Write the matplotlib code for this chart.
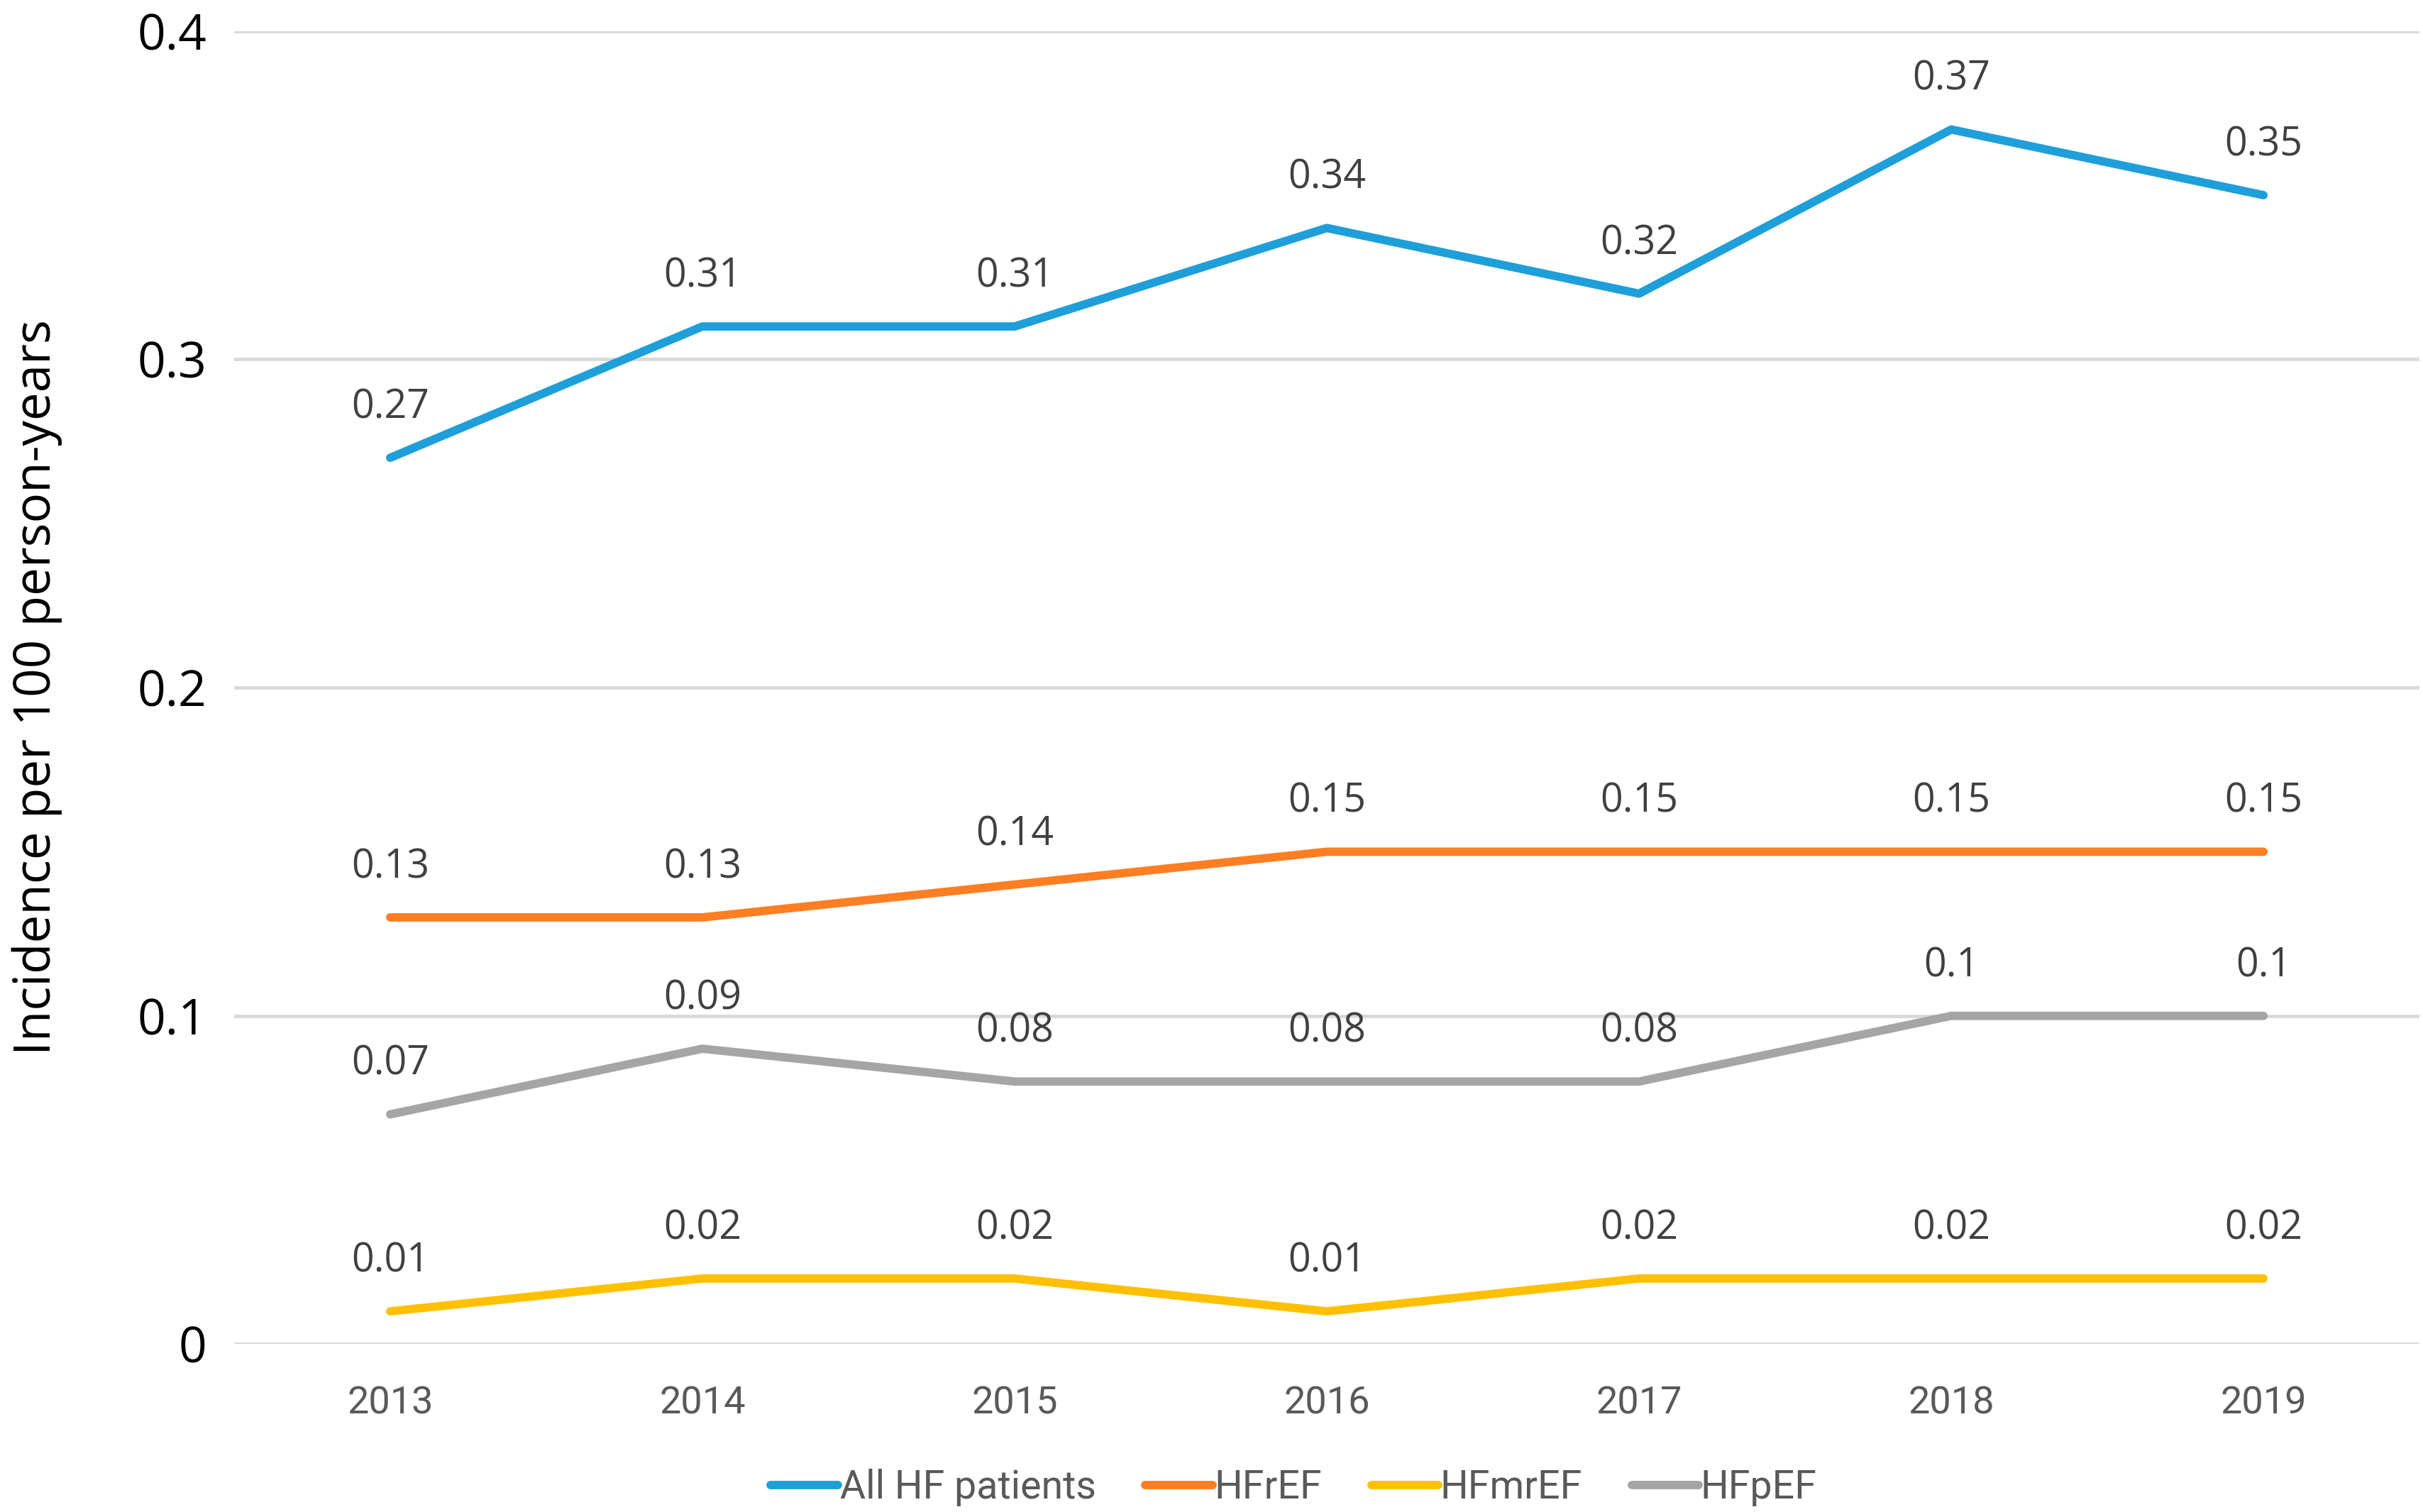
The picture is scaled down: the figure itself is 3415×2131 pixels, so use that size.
import matplotlib
matplotlib.use("Agg")
import matplotlib.pyplot as plt

years = ["2013", "2014", "2015", "2016", "2017", "2018", "2019"]
all_hf = [0.27, 0.31, 0.31, 0.34, 0.32, 0.37, 0.35]
hfref = [0.13, 0.13, 0.14, 0.15, 0.15, 0.15, 0.15]
hfmref = [0.01, 0.02, 0.02, 0.01, 0.02, 0.02, 0.02]
hfpef = [0.07, 0.09, 0.08, 0.08, 0.08, 0.10, 0.10]
y_ticks = [0, 0.1, 0.2, 0.3, 0.4]
y_tick_labels = ["0", "0.1", "0.2", "0.3", "0.4"]

series = [
    ("All HF patients", all_hf, "#1E9FD9"),
    ("HFrEF", hfref, "#FD7E23"),
    ("HFmrEF", hfmref, "#FFC000"),
    ("HFpEF", hfpef, "#A5A5A5"),
]

main_font = ["Open Sans", "DejaVu Sans"]
narrow_font = ["Roboto", "DejaVu Sans"]

fig = plt.figure(figsize=(34.15, 21.31), dpi=100)
ax = fig.add_axes([0.0966, 0.111, 0.902, 0.8685])

x = list(range(len(years)))
handles = []
for name, vals, col in series:
    h, = ax.plot(x, vals, color=col, lw=8.5, solid_capstyle="round",
                 solid_joinstyle="round", label=name, zorder=3)
    handles.append(h)
    for xi, v in zip(x, vals):
        ax.annotate(f"{v:g}", (xi, v), xytext=(0, 30), textcoords="offset points",
                    ha="center", va="bottom", fontsize=40, color="#404040",
                    family=main_font)

ax.set_xlim(-0.5, len(years) - 0.5)
ax.set_ylim(0, 0.4)
ax.set_yticks(y_ticks)
ax.set_yticklabels(y_tick_labels, family=main_font, fontsize=50, color="black")
ax.set_xticks(x)
ax.set_xticklabels(years, family=narrow_font, fontsize=39, color="#595959")
ax.tick_params(axis="y", length=0, pad=28)
ax.tick_params(axis="x", length=0, pad=42)
for s in ax.spines.values():
    s.set_visible(False)
ax.grid(axis="y", color="#D9D9D9", lw=3.5, zorder=0)
ax.set_axisbelow(True)

ax.set_ylabel("Incidence per 100 person-years", family=main_font, fontsize=51,
              color="black", labelpad=76)

leg = fig.legend(handles=handles, loc="center", bbox_to_anchor=(0.534, 0.016),
                 ncol=4, frameon=False, prop={"family": narrow_font, "size": 40},
                 handlelength=1.7, handletextpad=0.05, columnspacing=1.25)
for t in leg.get_texts():
    t.set_color("#595959")

fig.savefig("out.png", dpi=100)
